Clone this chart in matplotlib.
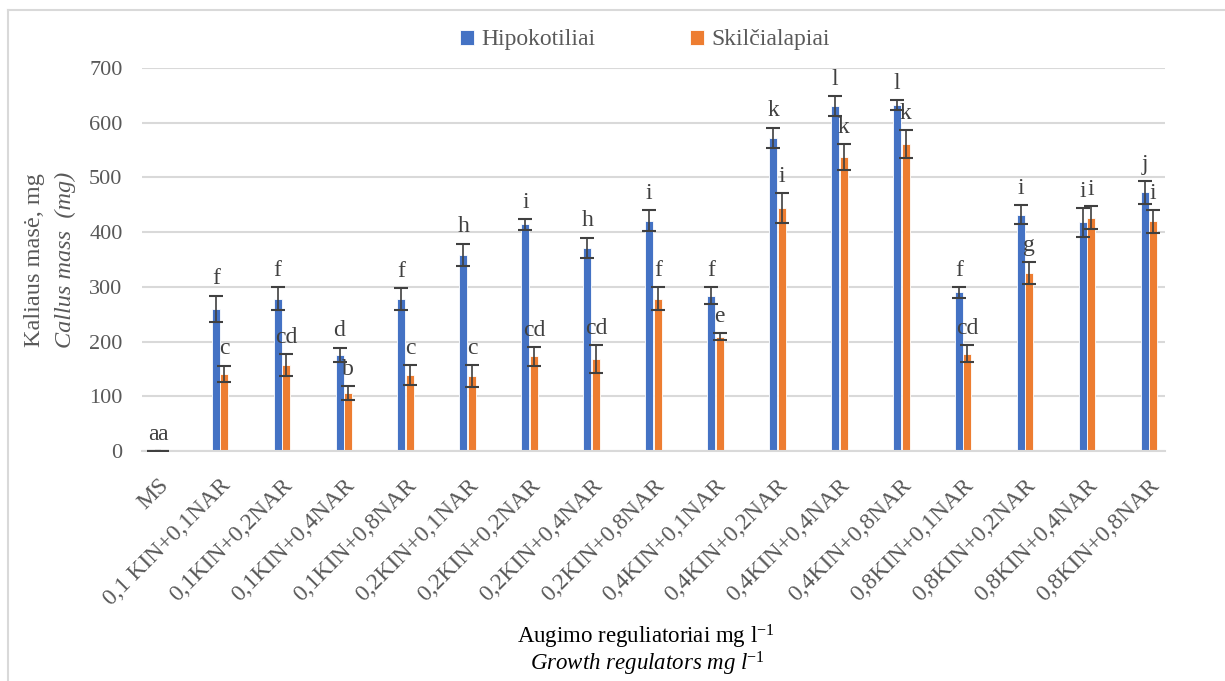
import numpy as np
import matplotlib.pyplot as plt
from matplotlib.lines import Line2D

plt.rcParams['font.family'] = ['Liberation Serif', 'DejaVu Serif']
plt.rcParams['mathtext.fontset'] = 'custom'
plt.rcParams['mathtext.rm'] = 'Liberation Serif'
plt.rcParams['mathtext.it'] = 'Liberation Serif:italic'

# data
categories = ['MS', '0,1 KIN+0,1NAR', '0,1KIN+0,2NAR', '0,1KIN+0,4NAR', '0,1KIN+0,8NAR',
              '0,2KIN+0,1NAR', '0,2KIN+0,2NAR', '0,2KIN+0,4NAR', '0,2KIN+0,8NAR',
              '0,4KIN+0,1NAR', '0,4KIN+0,2NAR', '0,4KIN+0,4NAR', '0,4KIN+0,8NAR',
              '0,8KIN+0,1NAR', '0,8KIN+0,2NAR', '0,8KIN+0,4NAR', '0,8KIN+0,8NAR']
hipo = [0, 260, 278, 176, 278, 359, 414, 371, 421, 284, 572, 630, 633, 290, 432, 418, 473]
hipo_err = [0, 24, 21, 13, 20, 20, 10, 19, 19, 16, 19, 18, 9, 10, 17, 26, 21]
skil = [0, 141, 157, 106, 139, 137, 173, 168, 278, 209, 444, 537, 561, 178, 326, 426, 420]
skil_err = [0, 15, 20, 12, 18, 20, 17, 25, 21, 7, 27, 24, 25, 16, 20, 21, 21]
hipo_letters = ['a', 'f', 'f', 'd', 'f', 'h', 'i', 'h', 'i', 'f', 'k', 'l', 'l', 'f', 'i', 'i', 'j']
skil_letters = ['a', 'c', 'cd', 'b', 'c', 'c', 'cd', 'cd', 'f', 'e', 'i', 'k', 'k', 'cd', 'g', 'i', 'i']

blue = '#4472C4'
orange = '#ED7D31'
grey = '#595959'

fig = plt.figure(figsize=(12.25, 6.81), dpi=100)
ax = fig.add_axes([142/1225, 1-451/681, (1165-142)/1225, (451-68)/681])

x = np.arange(len(categories))
w = 0.13
off = 0.07
ax.bar(x - off, hipo, w, color=blue, edgecolor='white', linewidth=0.6, label='Hipokotiliai', zorder=2)
ax.bar(x + off, skil, w, color=orange, edgecolor='white', linewidth=0.6, label='Skilčialapiai', zorder=2)
ax.errorbar(x - off, hipo, yerr=hipo_err, fmt='none', ecolor='#404040', elinewidth=1.2,
            capsize=5, capthick=1.5, zorder=3)
ax.errorbar(x + off, skil, yerr=skil_err, fmt='none', ecolor='#404040', elinewidth=1.2,
            capsize=5, capthick=1.5, zorder=3)

for i in range(len(x)):
    ax.annotate(hipo_letters[i], (x[i] - off, hipo[i] + hipo_err[i]), xytext=(0, 12),
                textcoords='offset points', ha='center', va='center', fontsize=17, color='#404040')
    ax.annotate(skil_letters[i], (x[i] + off, skil[i] + skil_err[i]), xytext=(0, 12),
                textcoords='offset points', ha='center', va='center', fontsize=17, color='#404040')

ax.set_xlim(-0.26, 16.26)
ax.set_ylim(0, 700)
ax.set_yticks(range(0, 701, 100))
ax.yaxis.grid(True, color='#d9d9d9', linewidth=1.5, zorder=0)
ax.set_axisbelow(True)
for s in ['top', 'right', 'left']:
    ax.spines[s].set_visible(False)
ax.spines['bottom'].set_color('#d9d9d9')
ax.spines['bottom'].set_linewidth(1.5)
ax.tick_params(length=0, labelsize=16, colors=grey)
ax.tick_params(axis='y', pad=14)
ax.set_xticks(x)
ax.set_xticklabels(categories, rotation=45, ha='right', rotation_mode='anchor', fontsize=17)
ax.tick_params(axis='x', pad=17)

fig.text(35/1225, 1-260/681, 'Kaliaus masė, mg', rotation=90, ha='center', va='center',
         fontsize=17.5, color=grey)
fig.text(65/1225, 1-260/681, 'Callus mass  (mg)', rotation=90, ha='center', va='center',
         fontsize=17.5, color=grey, style='italic')

fig.text(646/1225, 1-637/681, r'Augimo reguliatoriai mg l$^{\mathrm{-1}}$', ha='center', va='center',
         fontsize=16.5, color='black')
fig.text(647/1225, 1-664/681, r'Growth regulators mg l$^{\mathit{-1}}$', ha='center', va='center',
         fontsize=16.5, color='black', style='italic')

ax.legend(loc='center', bbox_to_anchor=(645/1225, 1-40/681), bbox_transform=fig.transFigure,
          ncol=2, frameon=False, fontsize=17, handlelength=0.6, handleheight=0.6,
          handletextpad=0.3, columnspacing=4.0, labelcolor=grey)

# chart area border
fig.add_artist(Line2D([8/1225, 1.0], [1-10/681, 1-10/681], color='#d9d9d9', linewidth=1.5))
fig.add_artist(Line2D([8/1225, 8/1225], [0, 1-10/681], color='#d9d9d9', linewidth=1.5))

fig.savefig('out.png', dpi=100)
